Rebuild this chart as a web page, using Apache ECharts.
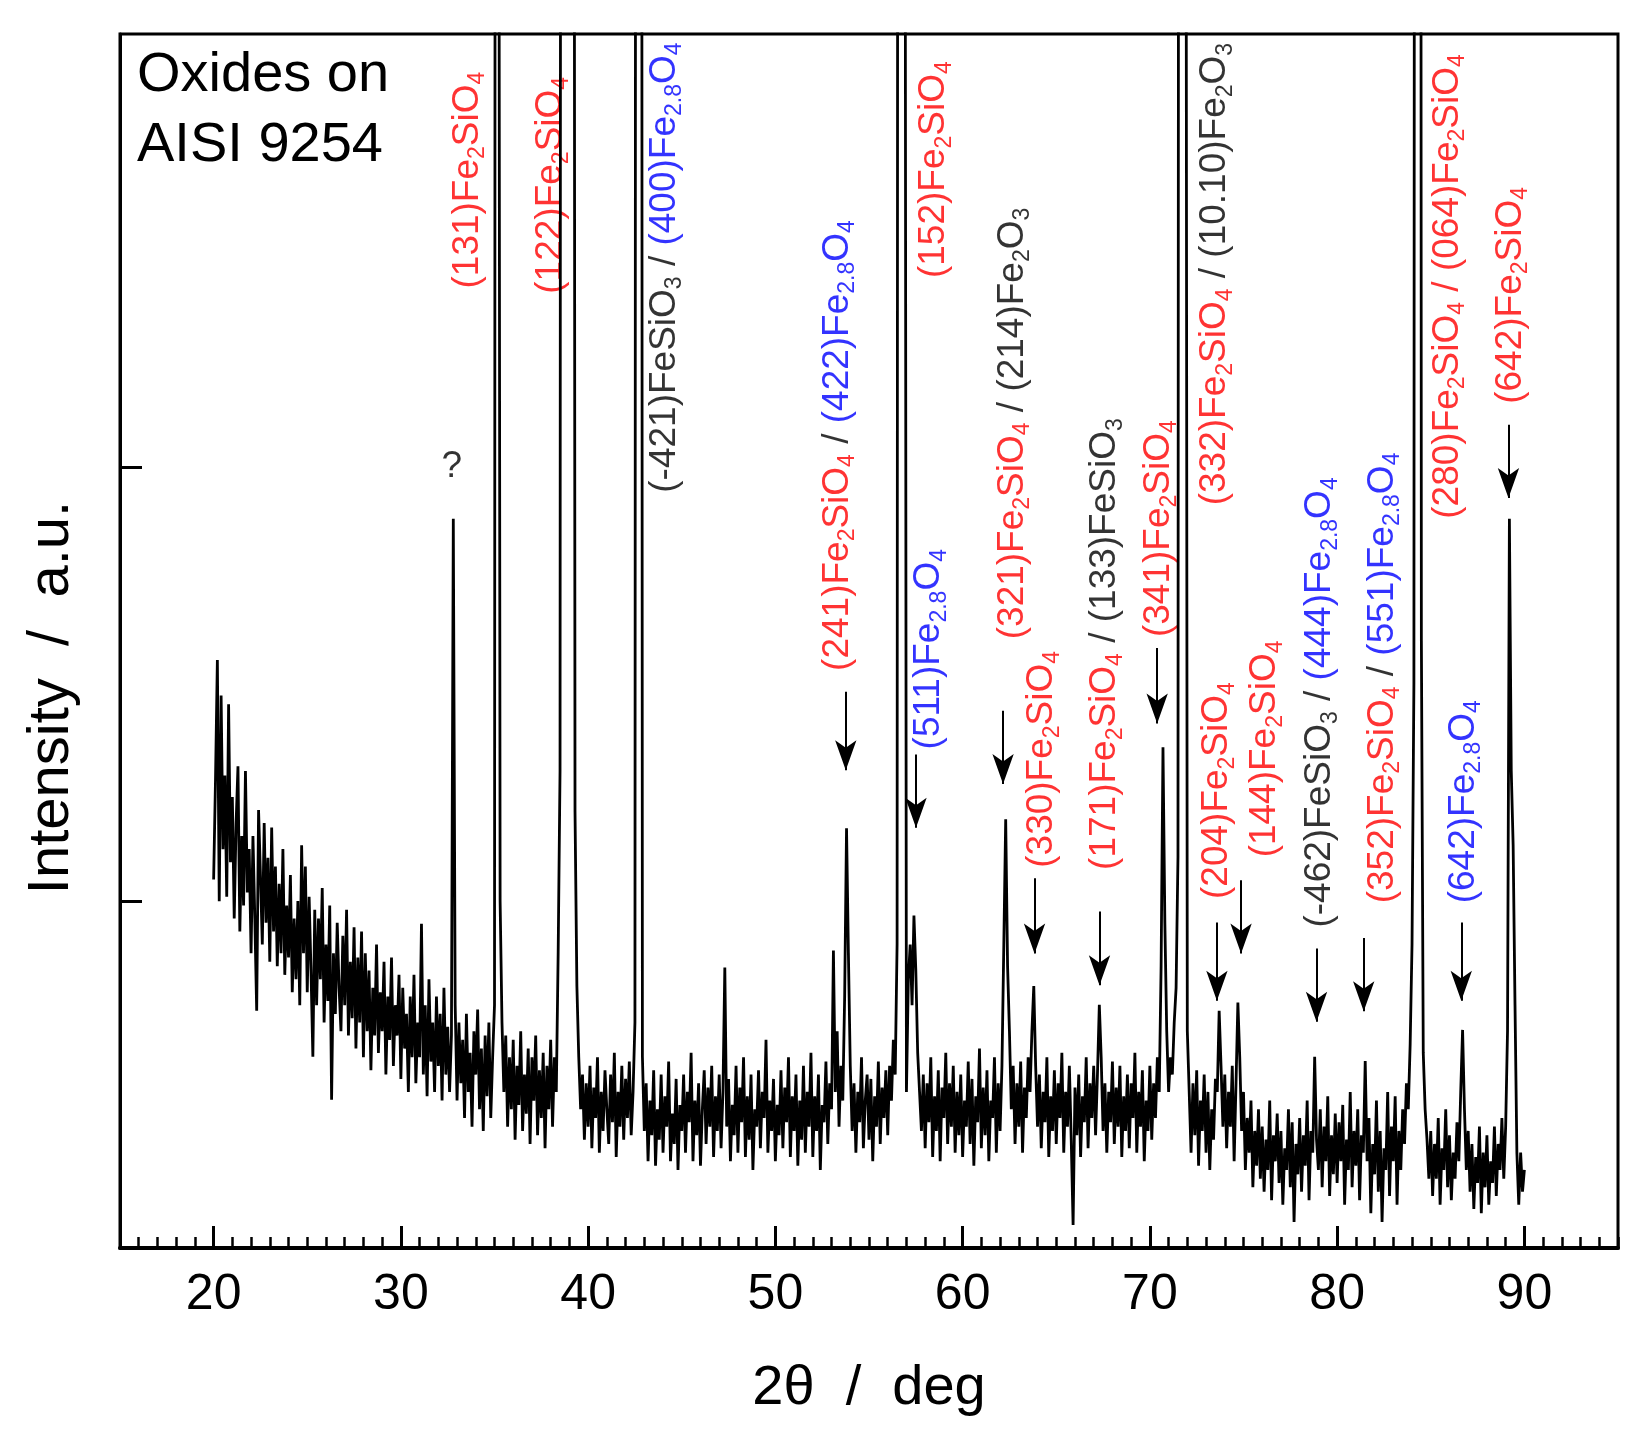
<!DOCTYPE html>
<html>
<head>
<meta charset="utf-8">
<title>Oxides on AISI 9254</title>
<script src="https://cdn.jsdelivr.net/npm/echarts@6/dist/echarts.min.js"></script>
<style>
  html, body { margin: 0; padding: 0; background: #fff; }
  #chart { width: 1644px; height: 1451px; }
</style>
</head>
<body>
<div id="chart"></div>
<script>
// intensity, one value every 0.1 deg (20.0 .. 90.0)
var counts20 = [
	1050,1280,1556,1000,1474,1120,1290,1010,1454,1090,
	1240,960,1180,1311,930,1150,990,1300,1020,1120,
	880,1150,960,747,1210,1060,900,1180,950,1100,
	860,1170,930,1080,850,1040,880,1120,830,990,
	870,1060,790,960,820,1000,760,1129,880,1080,
	790,1010,840,641,980,760,960,820,1030,720,
	900,770,990,542,880,740,950,800,700,920,
	760,980,690,860,730,940,660,870,720,930,
	640,880,700,840,610,800,690,900,650,790,
	700,860,600,780,680,870,620,760,690,830
];
var counts30 = [
	590,800,660,740,560,780,640,830,580,720,
	640,948,600,760,550,820,630,720,560,780,
	620,740,540,800,600,710,560,690,1882,760,
	540,720,580,680,500,740,560,650,480,700,
	600,750,520,660,470,690,550,720,500,640,
	760,9000,9000,1000,720,560,690,480,640,520,
	680,450,620,530,700,470,600,510,660,440,
	640,540,690,460,610,500,650,430,620,520,
	680,480,640,560,880,1300,9000,9000,9000,9000,
	9000,9000,7000,1206,804,640,520,600,450,580
];
var counts40 = [
	480,620,430,570,500,640,420,560,470,610,
	520,440,600,490,650,410,560,480,620,450,
	590,500,630,460,560,720,9000,9000,9000,640,
	470,580,400,540,460,610,390,520,450,600,
	420,550,480,630,400,510,440,590,380,530,
	470,600,420,560,490,650,400,540,460,580,
	390,520,610,440,570,480,620,410,550,470,
	600,430,560,847,480,590,400,530,460,620,
	420,570,490,640,410,550,450,600,380,520,
	480,610,430,560,500,680,420,540,470,590
];
var counts50 = [
	400,530,460,610,430,570,490,640,410,550,
	470,600,390,540,450,620,420,560,480,650,
	410,550,470,600,380,530,490,630,440,580,
	520,886,560,700,480,620,540,780,1168,880,
	620,470,580,420,560,490,640,430,540,600,
	450,590,400,550,480,630,440,570,500,610,
	460,620,540,680,600,900,9000,9000,9000,9000,
	560,820,900,760,967,840,650,560,470,600,
	430,580,490,640,410,550,470,610,400,570,
	500,650,440,580,480,620,420,560,460,600
];
var counts60 = [
	410,540,480,630,440,590,390,550,490,660,
	430,570,460,610,400,540,500,640,420,580,
	470,620,900,1189,851,700,520,620,440,580,
	480,630,420,570,500,640,560,700,804,620,
	480,600,430,560,490,640,410,550,470,610,
	440,580,500,650,420,560,480,620,450,253,
	570,460,600,410,550,490,640,430,580,500,
	620,460,600,761,640,470,580,420,560,490,
	630,440,570,480,620,410,550,470,600,430,
	580,500,650,420,560,480,610,400,540,470
];
var counts70 = [
	620,450,580,500,640,560,850,1355,950,700,
	560,640,600,720,800,1100,9000,9000,9000,9000,
	700,560,420,580,460,610,390,540,470,600,
	420,560,380,520,450,590,560,747,620,480,
	600,430,560,480,620,400,580,766,640,470,
	560,380,500,420,540,340,470,390,520,360,
	480,330,450,380,540,310,460,400,510,350,
	470,300,430,380,520,340,490,260,440,370,
	500,330,460,390,540,310,470,420,641,450,
	380,520,340,480,400,550,320,460,370,510
];
var counts80 = [
	350,490,400,530,300,450,380,560,340,470,
	390,520,310,460,420,631,400,500,280,440,
	370,540,330,470,260,430,380,560,320,480,
	400,550,300,470,380,520,440,580,520,669,
	900,1500,9000,9000,9000,1600,650,520,450,360,
	470,320,440,360,500,300,430,380,520,340,
	460,310,420,360,490,400,560,703,520,380,
	470,330,440,290,410,350,480,280,420,340,
	460,300,400,350,480,320,440,380,500,360,
	480,700,1882,1300,1129,760,420,300,420,330
];
var counts90 = [380];

var xTickValues = [20, 30, 40, 50, 60, 70, 80, 90];
var yTickValues = [1000, 2000];

// peak labels: [2theta, intensity where the text starts, segments]
var peakLabels = [
	[33.55, 2413, [['red', '(131)Fe_2SiO_4']]],
	[38.03, 2401, [['red', '(122)Fe_2SiO_4']]],
	[44.08, 1942, [['black', '(-421)FeSiO_3'], ['black', ' / '], ['blue', '(400)Fe_2.8O_4']]],
	[53.32, 1531, [['red', '(241)Fe_2SiO_4'], ['black', ' / '], ['blue', '(422)Fe_2.8O_4']]],
	[58.47, 2437, [['red', '(152)Fe_2SiO_4']]],
	[58.19, 1350, [['blue', '(511)Fe_2.8O_4']]],
	[62.67, 1604, [['red', '(321)Fe_2SiO_4'], ['black', ' / '], ['black', '(214)Fe_2O_3']]],
	[64.23, 1077, [['red', '(330)Fe_2SiO_4']]],
	[67.59, 1072, [['red', '(171)Fe_2SiO_4'], ['black', ' / '], ['black', '(133)FeSiO_3']]],
	[70.50, 1609, [['red', '(341)Fe_2SiO_4']]],
	[73.47, 1913, [['red', '(332)Fe_2SiO_4'], ['black', ' / '], ['black', '(10.10)Fe_2O_3']]],
	[73.58, 1005, [['red', '(204)Fe_2SiO_4']]],
	[76.16, 1101, [['red', '(144)Fe_2SiO_4']]],
	[79.07, 939, [['black', '(-462)FeSiO_3'], ['black', ' / '], ['blue', '(444)Fe_2.8O_4']]],
	[82.43, 995, [['red', '(352)Fe_2SiO_4'], ['black', ' / '], ['blue', '(551)Fe_2.8O_4']]],
	[85.90, 1882, [['red', '(280)Fe_2SiO_4'], ['red', ' / '], ['red', '(064)Fe_2SiO_4']]],
	[89.26, 2147, [['red', '(642)Fe_2SiO_4']]],
	[86.74, 995, [['blue', '(642)Fe_2.8O_4']]]
];
var unknownPeak = [32.72, 2002, '?'];

// arrows: [2theta, top, tip]
var arrows = [
	[53.76, 1483, 1302],
	[57.51, 1338, 1169],
	[62.16, 1439, 1270],
	[63.84, 1053, 879],
	[67.31, 976, 806],
	[70.39, 1584, 1410],
	[73.58, 951, 770],
	[74.87, 1048, 879],
	[78.90, 891, 722],
	[81.42, 915, 746],
	[86.63, 951, 770],
	[89.15, 2099, 1930]
];

var counts = counts20.concat(counts30, counts40, counts50, counts60, counts70, counts80, counts90);
var scan = [];
for (var i = 0; i < counts.length; i++) {
	scan.push([(200 + i) / 10, counts[i]]);
}

var colorKey = { red: 'r', blue: 'b', black: 'k' };
function richText(segs) {
	return segs.map(function (seg) {
		var k = colorKey[seg[0]];
		return seg[1].split(/_([0-9.]+)/).map(function (s, j) {
			if (s === '') return '';
			return '{' + (j % 2 ? k + 's' : k) + '|' + s + '}';
		}).join('');
	}).join('');
}

var FONT = 'Liberation Sans, Arial, sans-serif';
var MAIN = 37, SUB = 23;
var rich = {
	r:  { color: '#ff0000', fontSize: MAIN, lineHeight: 44, fontFamily: FONT },
	rs: { color: '#ff0000', fontSize: SUB, lineHeight: 22, verticalAlign: 'bottom', fontFamily: FONT },
	b:  { color: '#0000ff', fontSize: MAIN, lineHeight: 44, fontFamily: FONT },
	bs: { color: '#0000ff', fontSize: SUB, lineHeight: 22, verticalAlign: 'bottom', fontFamily: FONT },
	k:  { color: '#000000', fontSize: MAIN, lineHeight: 44, fontFamily: FONT },
	ks: { color: '#000000', fontSize: SUB, lineHeight: 22, verticalAlign: 'bottom', fontFamily: FONT }
};

var labelData = peakLabels.map(function (p) {
	return { value: [p[0], p[1]], text: richText(p[2]) };
});

var chart = echarts.init(document.getElementById('chart'));
var option = {
	animation: false,
	backgroundColor: '#fff',
	textStyle: { fontFamily: FONT },
	title: {
		text: 'Oxides on\nAISI 9254',
		left: 137,
		top: 41,
		padding: 0,
		textStyle: { fontSize: 56, lineHeight: 70, fontWeight: 'normal', color: '#000', fontFamily: FONT }
	},
	grid: {
		left: 120, right: 26, top: 34, bottom: 203,
		show: true, borderColor: '#000', borderWidth: 3
	},
	xAxis: [{
		type: 'value',
		min: 15, max: 95, interval: 1,
		name: '2\u03b8  /  deg',
		nameLocation: 'middle',
		nameGap: 113,
		nameTextStyle: { fontSize: 56, color: '#000', fontFamily: FONT },
		axisLine: { lineStyle: { color: '#000', width: 4 } },
		axisTick: { inside: true, length: 11, lineStyle: { color: '#000', width: 2.5 } },
		axisLabel: {
			fontSize: 50, color: '#000', margin: 22, fontFamily: FONT,
			formatter: function (v) { return xTickValues.indexOf(v) >= 0 ? String(v) : ''; }
		},
		splitLine: { show: false }
	}, {
		type: 'value',
		min: 15, max: 95,
		position: 'bottom',
		axisLine: { show: false },
		axisTick: { inside: true, length: 22, customValues: xTickValues, lineStyle: { color: '#000', width: 3 } },
		axisLabel: { show: false },
		splitLine: { show: false }
	}],
	yAxis: {
		type: 'value',
		min: 200, max: 3000,
		name: 'Intensity  /  a.u.',
		nameLocation: 'middle',
		nameGap: 39,
		nameTextStyle: { fontSize: 58, color: '#000', fontFamily: FONT, padding: [0, 113, 0, 0] },
		axisLine: { lineStyle: { color: '#000', width: 3 } },
		axisTick: { inside: true, length: 22, customValues: yTickValues, lineStyle: { color: '#000', width: 3 } },
		axisLabel: { show: false },
		splitLine: { show: false }
	},
	series: [{
		type: 'line',
		xAxisIndex: 0,
		data: scan,
		showSymbol: false,
		clip: true,
		lineStyle: { color: '#000', width: 2.8, join: 'miter', miterLimit: 2 },
		markLine: {
			silent: true,
			symbol: ['none', 'arrow'],
			symbolSize: [16, 30],
			label: { show: false },
			lineStyle: { color: '#000', width: 2, type: 'solid' },
			data: arrows.map(function (a) {
				return [{ coord: [a[0], a[1]] }, { coord: [a[0], a[2]] }];
			})
		}
	}, {
		type: 'scatter',
		xAxisIndex: 0,
		symbolSize: 1,
		itemStyle: { color: 'rgba(0,0,0,0)' },
		silent: true,
		data: labelData,
		label: {
			show: true,
			position: 'inside',
			rotate: 90,
			align: 'left',
			verticalAlign: 'middle',
			formatter: function (p) { return p.data.text; },
			rich: rich
		}
	}, {
		type: 'scatter',
		xAxisIndex: 0,
		symbolSize: 1,
		itemStyle: { color: 'rgba(0,0,0,0)' },
		silent: true,
		data: [[unknownPeak[0], unknownPeak[1]]],
		label: {
			show: true,
			position: 'inside',
			formatter: unknownPeak[2],
			fontSize: 37, color: '#000', fontFamily: FONT
		}
	}]
};
chart.setOption(option);
</script>
</body>
</html>
